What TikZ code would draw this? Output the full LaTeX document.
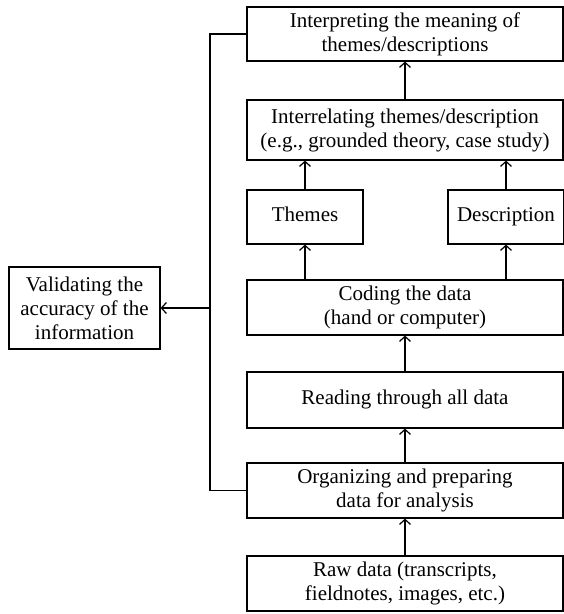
\documentclass[tikz,border=0pt]{standalone}
\usepackage{fontspec}
\setmainfont{Liberation Serif}
\usetikzlibrary{arrows.meta}
\begin{document}
\begin{tikzpicture}[x=1pt,y=-1pt,
  stepbox/.style={draw,line width=1.2pt,inner sep=0pt,align=center,
    font=\fontsize{21}{24}\selectfont},
  arr/.style={line width=1.2pt,-{Straight Barb[length=5pt,width=11pt,line width=1.2pt]}},
  conn/.style={line width=1.2pt}]
\useasboundingbox (0,0) rectangle (564,614);
\node[stepbox,minimum width=316pt,minimum height=54pt] (top) at (405,34) {Interpreting the meaning of\\themes/descriptions};
\node[stepbox,minimum width=316pt,minimum height=60pt] (inter) at (405,130) {Interrelating themes/description\\(e.g., grounded theory, case study)};
\node[stepbox,minimum width=116pt,minimum height=54pt] (themes) at (305,217) {\strut Themes};
\node[stepbox,minimum width=116pt,minimum height=54pt] (desc) at (506,217) {\strut Description};
\node[stepbox,minimum width=316pt,minimum height=55pt] (coding) at (405,307.5) {Coding the data\\(hand or computer)};
\node[stepbox,minimum width=316pt,minimum height=56pt] (reading) at (405,400) {\strut Reading through all data};
\node[stepbox,minimum width=316pt,minimum height=55pt] (org) at (405,490.5) {Organizing and preparing\\data for analysis};
\node[stepbox,minimum width=316pt,minimum height=55pt] (raw) at (405,583.5) {Raw data (transcripts,\\fieldnotes, images, etc.)};
\node[stepbox,minimum width=151pt,minimum height=82pt] (valid) at (84.5,308) {Validating the\\accuracy of the\\information};
\coordinate (vx) at (210,0);
\draw[arr] (raw.north) -- (org.south);
\draw[arr] (org.north) -- (reading.south);
\draw[arr] (reading.north) -- (coding.south);
\draw[arr] (themes.south |- coding.north) -- (themes.south);
\draw[arr] (desc.south |- coding.north) -- (desc.south);
\draw[arr] (themes.north) -- (themes.north |- inter.south);
\draw[arr] (desc.north) -- (desc.north |- inter.south);
\draw[arr] (inter.north) -- (top.south);
\draw[conn] (top.west) -| (vx |- org.west) -- (org.west);
\draw[arr] (vx |- valid.east) -- (valid.east);
\end{tikzpicture}
\end{document}
